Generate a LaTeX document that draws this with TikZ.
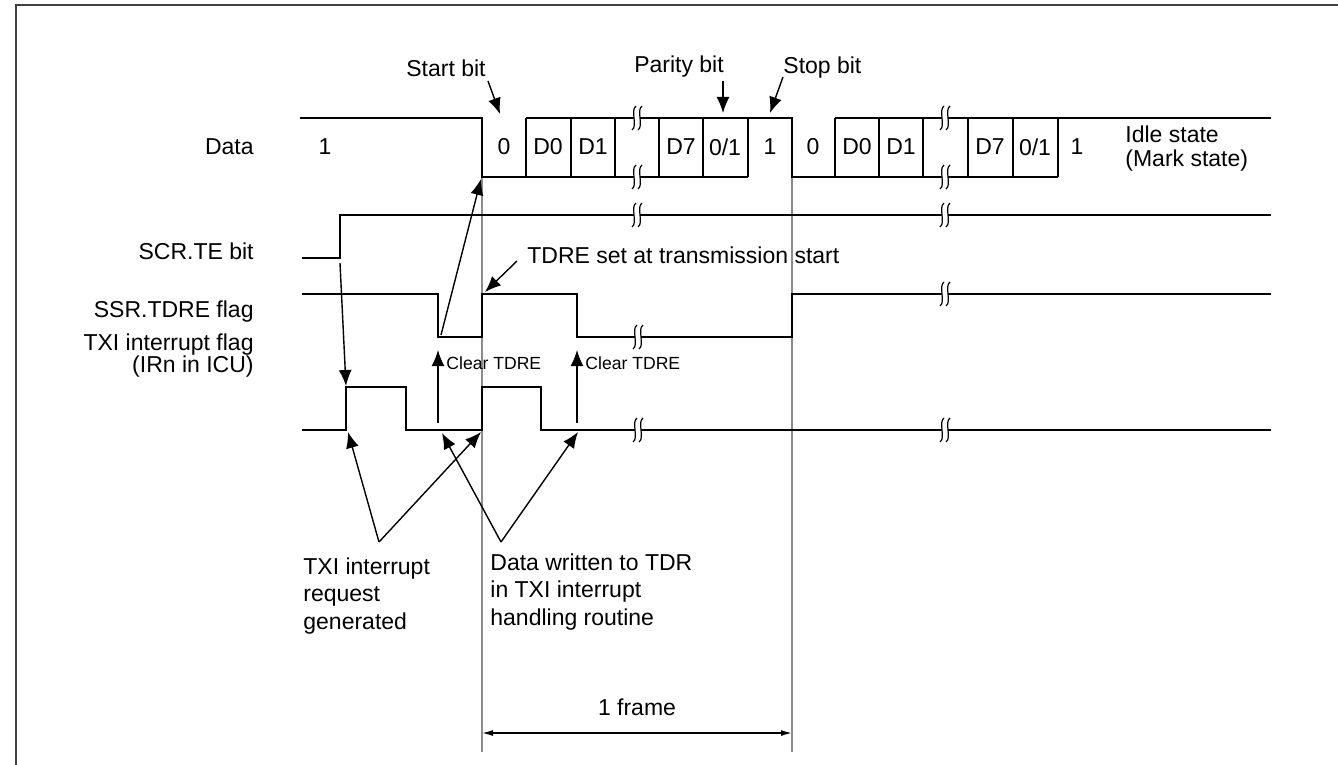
\documentclass[tikz,border=0pt]{standalone}
\usepackage{fontspec}
\setmainfont{Liberation Sans}
\usetikzlibrary{arrows.meta,calc}

\tikzset{
  sig/.style={line width=1pt},
  guide/.style={line width=0.7pt, black!45},
  pointer/.style={line width=0.7pt, -{Latex[length=8pt,width=6.5pt]}},
  txt/.style={inner sep=0pt, font=\fontsize{11.5}{13.75}\selectfont},
  tiny/.style={inner sep=0pt, font=\fontsize{8.8}{10}\selectfont},
  brk/.pic={
    \fill[white] (-3,-11) rectangle (3,11);
    \draw[line width=0.6pt] (-1,-12) .. controls (-7,-8) and (1,8) .. (-5,12);
    \draw[line width=0.6pt] (5,-12) .. controls (-1,-8) and (7,8) .. (1,12);
  }
}

\begin{document}
\begin{tikzpicture}[x=0.5pt, y=-0.5pt]
\useasboundingbox (0,0) rectangle (1338,765);

% Frame
\draw[line width=0.7pt, black!75] (16,765) -- (16,5) -- (1338,5);

% Frame guides
\draw[guide] (482,177) -- (482,752);
\draw[guide] (792,177) -- (792,752);

% Signal names
\node[txt, anchor=east] (ndata) at (254,147) {Data};
\node[txt, anchor=east] (nte) at (254,251) {SCR.TE bit};
\node[txt, anchor=east] (ntdre) at (254,312) {SSR.TDRE flag};
\node[txt, anchor=east, align=right, font=\fontsize{11.5}{11}\selectfont] (ntxi) at (254,356)
  {TXI interrupt flag\\(IRn in ICU)};

% Data line
\draw[sig] (300,118) -- (482,118) -- (482,177) -- (748,177);
\draw[sig] (526,118) -- (792,118) -- (792,177) -- (1058,177);
\draw[sig] (835,118) -- (1271,118);
\foreach \x in {526,571,615,659,703,748,835,879,923,968,1013,1058}
  \draw[sig] (\x,118) -- (\x,177);
\foreach \x in {637,945}{
  \pic at (\x,118) {brk};
  \pic at (\x,177) {brk};
}

% Bit values
\node[txt] (mark1) at (325,147) {1};
\foreach \x/\t [count=\i] in {504/0,548/D0,593/D1,681/D7,725/{0/1},770/1,
                               813/0,857/D0,901/D1,990/D7,1035/{0/1},1077/1}
  \node[txt] (bit\i) at (\x,147) {\t};
\node[txt, anchor=west, align=left, font=\fontsize{11.5}{12}\selectfont] (idle) at (1125,149)
  {Idle state\\(Mark state)};

% SCR.TE bit
\draw[sig] (302,258) -- (340,258) -- (340,215) -- (1271,215);
\pic at (637,215) {brk};
\pic at (945,215) {brk};

% SSR.TDRE flag
\draw[sig] (302,294) -- (438,294) -- (438,337) -- (482,337) -- (482,294)
  -- (577,294) -- (577,337) -- (792,337) -- (792,294) -- (1271,294);
\pic at (638,337) {brk};
\pic at (945,294) {brk};

% TXI interrupt flag
\draw[sig] (302,430) -- (346,430) -- (346,387) -- (406,387) -- (406,430)
  -- (482,430) -- (482,387) -- (541,387) -- (541,430) -- (1271,430);
\pic at (638,430) {brk};
\pic at (945,430) {brk};

% Bit markers
\node[txt] (startlbl) at (446,68) {Start bit};
\node[txt] (paritylbl) at (679,67) {Parity bit};
\node[txt, anchor=west] (stoplbl) at (783,68) {Stop bit};
\coordinate (startfrom) at (488,81);
\coordinate (startto) at (500,114);
\coordinate (parityfrom) at (723,81);
\coordinate (parityto) at (723,113);
\coordinate (stopfrom) at (783,77);
\coordinate (stopto) at (770,113);
\draw[pointer] (startfrom) -- (startto);
\draw[pointer] (parityfrom) -- (parityto);
\draw[pointer] (stopfrom) -- (stopto);

% TDRE set at start
\node[txt, anchor=west] (setlbl) at (527,255) {TDRE set at transmission start};
\coordinate (setfrom) at (517,261);
\coordinate (setto) at (485,292);
\draw[pointer] (setfrom) -- (setto);

% TE enables, TDRE starts data
\coordinate (teup) at (340,263);
\coordinate (txiup) at (346,386);
\coordinate (tdrelow) at (441,335);
\coordinate (datafall) at (481,179);
\draw[pointer] (teup) -- (txiup);
\draw[pointer] (tdrelow) -- (datafall);

% Clear TDRE
\coordinate (clra) at (438,423);
\coordinate (clrb) at (577,423);
\draw[pointer] (clra) -- ++(0,-73);
\draw[pointer] (clrb) -- ++(0,-73);
\node[tiny, anchor=west] (clralbl) at (446,363) {Clear TDRE};
\node[tiny, anchor=west] (clrblbl) at (585,363) {Clear TDRE};

% Interrupt requests
\coordinate (reqtip) at (379,542);
\coordinate (reqa) at (348,432);
\coordinate (reqb) at (481,432);
\draw[pointer] (reqtip) -- (reqa);
\draw[pointer] (reqtip) -- (reqb);
\node[txt, anchor=west, align=left] (reqlbl) at (303,596)
  {TXI interrupt\\request\\generated};

% Data writes
\coordinate (wrtip) at (501,542);
\coordinate (wra) at (442,433);
\coordinate (wrb) at (578,432);
\draw[pointer] (wrtip) -- (wra);
\draw[pointer] (wrtip) -- (wrb);
\node[txt, anchor=west, align=left] (wrlbl) at (490,592)
  {Data written to TDR\\in TXI interrupt\\handling routine};

% One frame
\coordinate (fa) at (482,733);
\coordinate (fb) at (792,733);
\draw[line width=0.7pt, {Latex[length=5.5pt,width=3pt]}-{Latex[length=5.5pt,width=3pt]}] (fa) -- (fb);
\node[txt] (framelbl) at (637,707) {1 frame};

\end{tikzpicture}
\end{document}
